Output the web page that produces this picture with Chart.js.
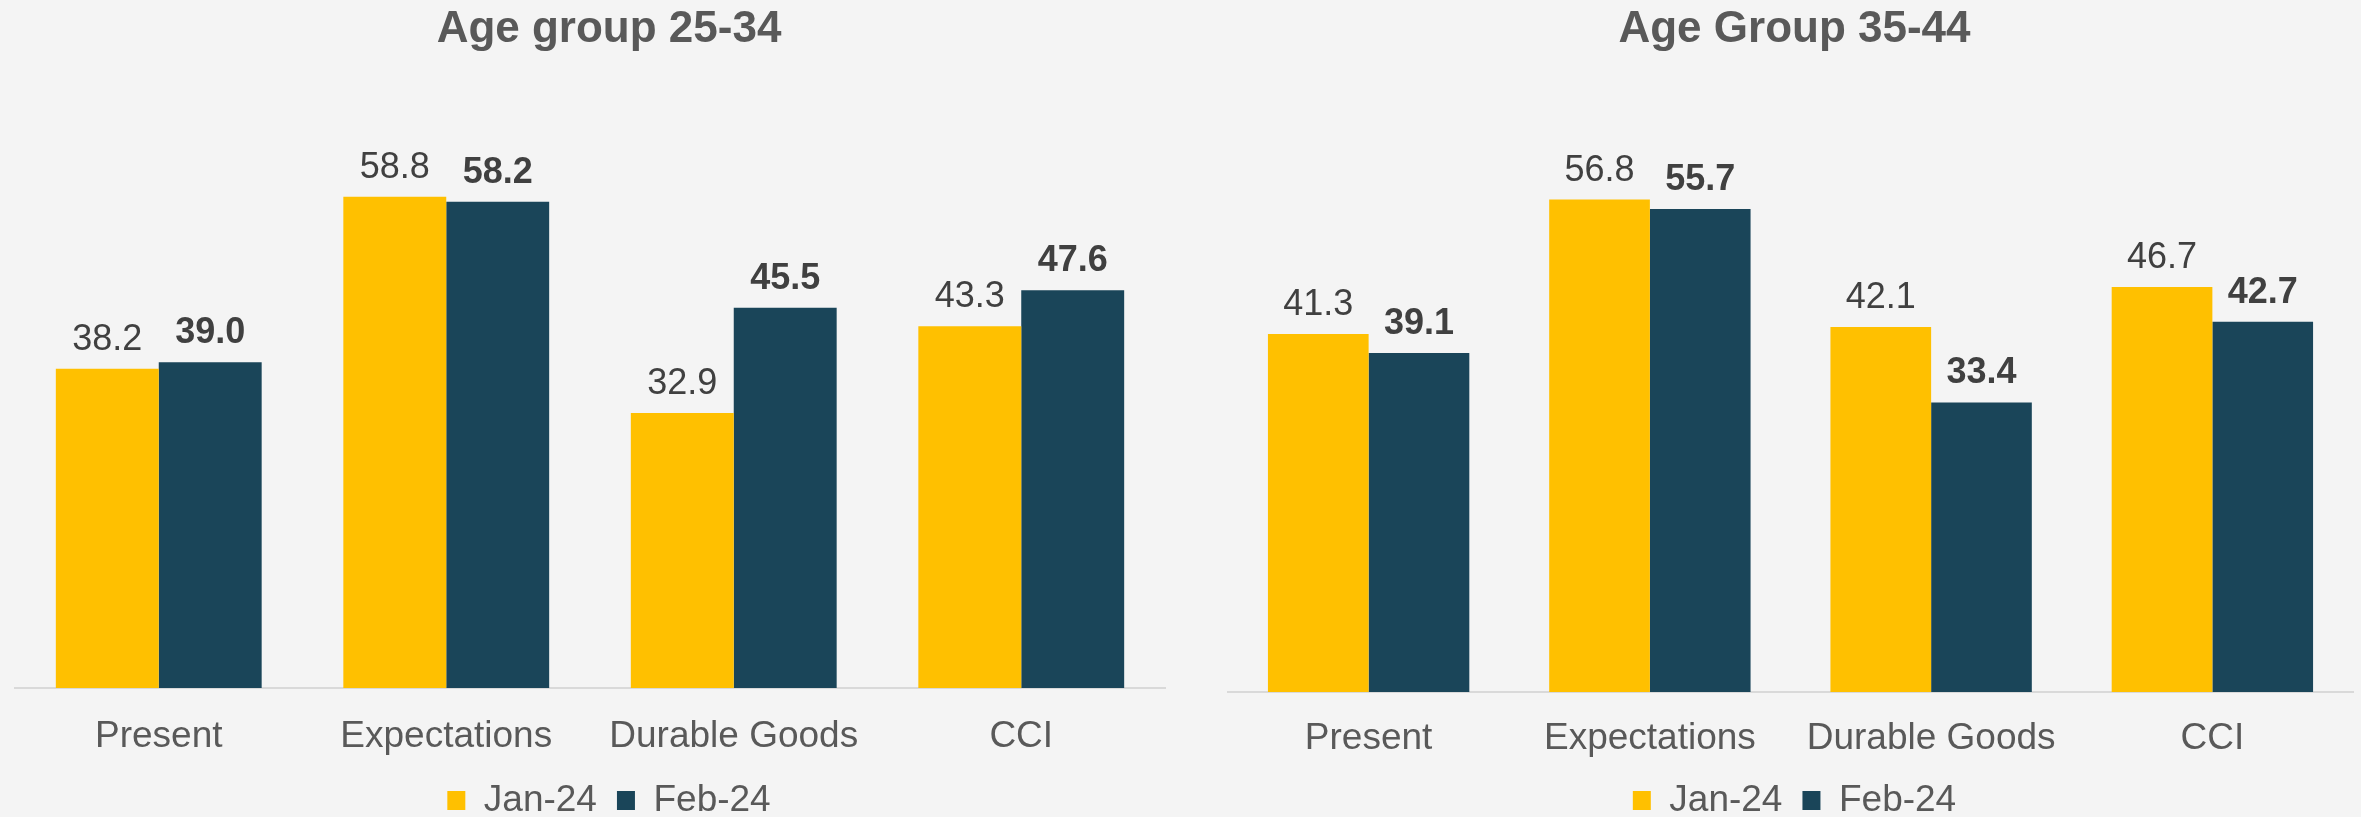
<!DOCTYPE html>
<html>
<head>
<meta charset="utf-8">
<script src="https://cdn.jsdelivr.net/npm/chart.js@4.4.0/dist/chart.umd.min.js"></script>
<style>
    html, body { margin: 0; padding: 0; background: #f4f4f4; }
    body { width: 2361px; height: 817px; position: relative; overflow: hidden; }
    .panel { position: absolute; top: 0; height: 817px; }
    #panel-left { left: 0; width: 1203px; }
    #panel-right { left: 1221px; width: 1140px; }
</style>
</head>
<body>
<div class="panel" id="panel-left"><canvas id="chartLeft"></canvas></div>
<div class="panel" id="panel-right"><canvas id="chartRight"></canvas></div>
<script>
// Data
const categories = ['Present', 'Expectations', 'Durable Goods', 'CCI'];
const seriesNames = ['Jan-24', 'Feb-24'];
const age2534Jan = [38.2, 58.8, 32.9, 43.3];
const age2534Feb = [39.0, 58.2, 45.5, 47.6];
const age3544Jan = [41.3, 56.8, 42.1, 46.7];
const age3544Feb = [39.1, 55.7, 33.4, 42.7];

const FONT = '"Liberation Sans", Arial, sans-serif';
const colorJan = '#FFC000';
const colorFeb = '#1A4559';

// value labels above each bar (Feb-24 in bold)
const valueLabels = {
    id: 'valueLabels',
    afterDatasetsDraw(chart) {
        const ctx = chart.ctx;
        ctx.save();
        ctx.fillStyle = '#404040';
        ctx.textAlign = 'center';
        ctx.textBaseline = 'alphabetic';
        chart.data.datasets.forEach((ds, i) => {
            const meta = chart.getDatasetMeta(i);
            ctx.font = (i === 1 ? 'bold ' : '') + '36px ' + FONT;
            meta.data.forEach((bar, j) => {
                ctx.fillText(ds.data[j].toFixed(1), bar.x, bar.y - 19);
            });
        });
        ctx.restore();
    }
};

const makeChart = (id, title, janData, febData, yMax, padLeft, rightGap, tickPad) => {
    const el = document.getElementById(id);
    return new Chart(el.getContext('2d'), {
        type: 'bar',
        data: {
            labels: categories,
            datasets: [
                { label: seriesNames[0], data: janData, backgroundColor: colorJan,
                  categoryPercentage: 0.716, barPercentage: 1 },
                { label: seriesNames[1], data: febData, backgroundColor: colorFeb,
                  categoryPercentage: 0.716, barPercentage: 1 }
            ]
        },
        options: {
            responsive: true,
            maintainAspectRatio: false,
            animation: false,
            layout: { padding: { left: padLeft, right: 0, top: 0, bottom: -12 } },
            plugins: {
                title: {
                    display: true,
                    text: title,
                    color: '#595959',
                    font: { family: FONT, size: 44, weight: 'bold' },
                    padding: { top: 3, bottom: 44 }
                },
                legend: {
                    position: 'bottom',
                    labels: {
                        color: '#595959',
                        font: { family: FONT, size: 37 },
                        boxWidth: 18,
                        boxHeight: 19,
                        padding: 20
                    }
                },
                tooltip: { enabled: false }
            },
            scales: {
                x: {
                    grid: { display: false, drawTicks: false },
                    border: { display: true, color: '#d9d9d9', width: 2 },
                    ticks: {
                        color: '#595959',
                        font: { family: FONT, size: 37, lineHeight: 0.865 },
                        padding: tickPad
                    },
                    // pull the axis line down, labels keep their offset below it
                    afterFit(scale) { scale.height = scale.height - 24; }
                },
                // invisible axis on the right, only reserves the empty gap
                y: {
                    position: 'right',
                    min: 0,
                    max: yMax,
                    grid: { display: false, drawTicks: false },
                    border: { display: false },
                    ticks: { display: false },
                    afterFit(scale) { scale.width = rightGap; }
                }
            }
        },
        plugins: [valueLabels]
    });
};

makeChart('chartLeft', 'Age group 25-34', age2534Jan, age2534Feb, 70.4, 15, 38, 33);
makeChart('chartRight', 'Age Group 35-44', age3544Jan, age3544Feb, 68.3, 7, 8, 31);
</script>
</body>
</html>
